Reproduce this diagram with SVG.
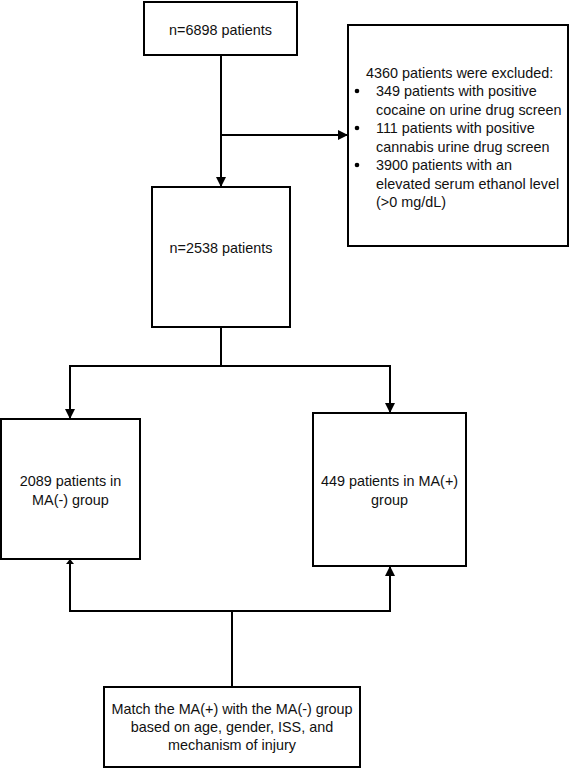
<svg xmlns="http://www.w3.org/2000/svg" width="570" height="769" viewBox="0 0 570 769">
<style>
.box{fill:#fff;stroke:#000;stroke-width:2}
.t{font-family:"Liberation Sans",Arial,sans-serif;font-size:14.4px;fill:#111}
.c{text-anchor:middle}
.ln{fill:none;stroke:#000;stroke-width:2}
</style>
<defs>
<marker id="ah" viewBox="0 0 10 10" refX="10" refY="5" markerWidth="10" markerHeight="10" markerUnits="userSpaceOnUse" orient="auto">
<path d="M0,0 L10,5 L0,10 Z" fill="#000"/>
</marker>
<marker id="ahs" viewBox="0 0 10 10" refX="10" refY="5" markerWidth="5" markerHeight="8" markerUnits="userSpaceOnUse" orient="auto" preserveAspectRatio="none">
<path d="M0,0 L10,5 L0,10 Z" fill="#000"/>
</marker>
</defs>
<g id="connectors">
<line class="ln" x1="221" y1="55" x2="221" y2="187" marker-end="url(#ah)"/>
<line class="ln" x1="221" y1="135" x2="348" y2="135" marker-end="url(#ah)"/>
<polyline class="ln" points="221,327 221,366 70,366 70,419" marker-end="url(#ah)"/>
<polyline class="ln" points="221,366 390,366 390,413" marker-end="url(#ah)"/>
<polyline class="ln" points="232,687 232,611 70,611 70,559" marker-end="url(#ahs)"/>
<polyline class="ln" points="232,611 390,611 390,566" marker-end="url(#ah)"/>
</g>
<g id="n1">
<rect class="box" x="144" y="2" width="153" height="53"/>
<text class="t c" x="220.5" y="35">n=6898 patients</text>
</g>
<g id="excluded">
<rect class="box" x="348" y="25" width="220" height="221"/>
<text class="t" x="366" y="78">4360 patients were excluded:</text>
<circle cx="357" cy="91" r="2.3" fill="#000"/>
<circle cx="357" cy="128" r="2.3" fill="#000"/>
<circle cx="357" cy="165" r="2.3" fill="#000"/>
<text class="t" x="376" y="96">349 patients with positive</text>
<text class="t" x="376" y="114.5">cocaine on urine drug screen</text>
<text class="t" x="376" y="133">111 patients with positive</text>
<text class="t" x="376" y="151.5">cannabis urine drug screen</text>
<text class="t" x="376" y="170">3900 patients with an</text>
<text class="t" x="376" y="188.5">elevated serum ethanol level</text>
<text class="t" x="376" y="207">(&gt;0 mg/dL)</text>
</g>
<g id="n2">
<rect class="box" x="152" y="187" width="138" height="140"/>
<text class="t c" x="221" y="253">n=2538 patients</text>
</g>
<g id="ma_neg">
<rect class="box" x="1" y="419" width="139" height="140"/>
<text class="t c" x="70.5" y="486">2089 patients in</text>
<text class="t c" x="70.5" y="504.5">MA(-) group</text>
</g>
<g id="ma_pos">
<rect class="box" x="313" y="413" width="153" height="153"/>
<text class="t c" x="389.5" y="486">449 patients in MA(+)</text>
<text class="t c" x="389.5" y="504.5">group</text>
</g>
<g id="match">
<rect class="box" x="104" y="687" width="256" height="80"/>
<text class="t c" x="232" y="714">Match the MA(+) with the MA(-) group</text>
<text class="t c" x="232" y="732">based on age, gender, ISS, and</text>
<text class="t c" x="232" y="750">mechanism of injury</text>
</g>
</svg>
